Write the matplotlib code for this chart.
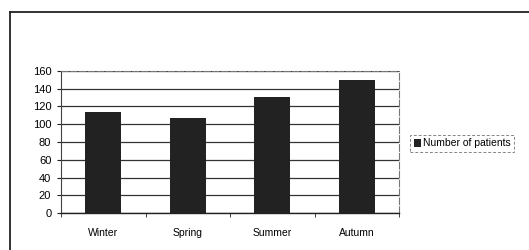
import matplotlib.pyplot as plt
from matplotlib.lines import Line2D

seasons = ['Winter', 'Spring', 'Summer', 'Autumn']
patients = [114, 107, 131, 150]
y_ticks = [0, 20, 40, 60, 80, 100, 120, 140, 160]

fig = plt.figure(figsize=(5.29, 2.5), dpi=100)
fig.patch.set_facecolor('white')

# frame around the whole chart
fig.add_artist(Line2D([0.019, 0.019], [0.0, 0.952], color='#222222', lw=1.3))
fig.add_artist(Line2D([0.019, 1.0], [0.952, 0.952], color='#222222', lw=1.3))

ax = fig.add_axes([0.1153, 0.148, 0.639, 0.568])
x = range(len(seasons))
ax.bar(x, patients, width=0.43, color='#222222', zorder=3, label='Number of patients')

ax.set_xlim(-0.5, len(seasons) - 0.5)
ax.set_ylim(0, 160)
ax.set_yticks(y_ticks)
ax.yaxis.grid(True, color='#333333', lw=0.9)
ax.set_axisbelow(True)

ax.set_xticks(list(x))
ax.set_xticklabels(seasons, fontsize=7.5, fontfamily='Liberation Sans')
ax.tick_params(axis='x', length=0, pad=11)
# category separator ticks on the x axis
ax.set_xticks([-0.5, 0.5, 1.5, 2.5, 3.5], minor=True)
ax.tick_params(axis='x', which='minor', length=3, direction='out', color='#222222')
ax.tick_params(axis='y', length=3, labelsize=8, pad=4, color='#222222')
for lab in ax.get_yticklabels():
    lab.set_fontfamily('Liberation Sans')

for side in ['top', 'right']:
    ax.spines[side].set_color('#777777')
    ax.spines[side].set_linestyle((0, (6, 2)))
    ax.spines[side].set_linewidth(0.8)
ax.spines['left'].set_color('#444444')
ax.spines['left'].set_linewidth(0.8)
ax.spines['bottom'].set_color('#222222')
ax.spines['bottom'].set_linewidth(1.0)

leg = fig.legend(loc='center left', bbox_to_anchor=(0.765, 0.426),
                 frameon=True, fancybox=False, handlelength=0.7, handleheight=0.7,
                 handletextpad=0.2, borderpad=0.35, prop={'family': 'Liberation Sans', 'size': 7.5})
leg.get_frame().set_edgecolor('#666666')
leg.get_frame().set_linestyle((0, (3, 2)))
leg.get_frame().set_linewidth(0.7)

fig.savefig('out.png', dpi=100)
